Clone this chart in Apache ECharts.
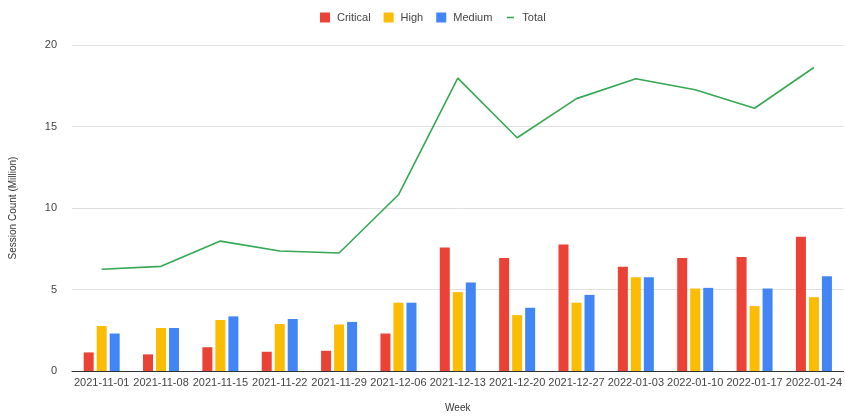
<!DOCTYPE html>
<html lang="en">
<head>
    <meta charset="utf-8"/>
    <title>Session Count by Week</title>
    <script src="https://cdn.jsdelivr.net/npm/echarts@6/dist/echarts.min.js"></script>
    <style>
        html, body { margin: 0; padding: 0; background: #fff; }
        #main { width: 845px; height: 418px; }
    </style>
</head>
<body>
<div id="main"></div>
<script>
    var weeks = ['2021-11-01', '2021-11-08', '2021-11-15', '2021-11-22', '2021-11-29', '2021-12-06',
        '2021-12-13', '2021-12-20', '2021-12-27', '2022-01-03', '2022-01-10', '2022-01-17', '2022-01-24'];
    var critical = [1.14, 1.02, 1.46, 1.18, 1.24, 2.3, 7.58, 6.93, 7.76, 6.4, 6.93, 6.99, 8.23];
    var high = [2.76, 2.64, 3.13, 2.88, 2.85, 4.19, 4.84, 3.43, 4.19, 5.75, 5.06, 3.98, 4.53];
    var medium = [2.3, 2.64, 3.35, 3.19, 3.01, 4.19, 5.43, 3.88, 4.67, 5.75, 5.1, 5.06, 5.81];
    var total = [6.24, 6.42, 7.97, 7.36, 7.24, 10.81, 17.97, 14.31, 16.71, 17.93, 17.26, 16.12, 18.62];

    var font = 'Liberation Sans, Arial, sans-serif';
    // short flat line for the Total legend entry (the M points keep the 10x10 box)
    var lineIcon = 'path://M0,0 M10,10 M1.5,4.2 L8.5,4.2 L8.5,5.8 L1.5,5.8 Z';

    var chart = echarts.init(document.getElementById('main'));
    var option = {
        animation: false,
        textStyle: {fontFamily: font},
        legend: {
            top: 7,
            left: 315,
            itemWidth: 10,
            itemHeight: 10,
            itemGap: 13,
            textStyle: {fontSize: 11, color: '#444', fontFamily: font, padding: [0, 0, 0, 2]},
            data: [
                {name: 'Critical', icon: 'rect'},
                {name: 'High', icon: 'rect'},
                {name: 'Medium', icon: 'rect'},
                {name: 'Total', icon: lineIcon}
            ]
        },
        grid: {left: 72, right: 0, top: 45, bottom: 45},
        xAxis: {
            type: 'category',
            data: weeks,
            name: 'Week',
            nameLocation: 'middle',
            nameGap: 32,
            nameTextStyle: {fontSize: 10, color: '#333'},
            axisTick: {show: false},
            axisLine: {lineStyle: {color: '#333', width: 1}},
            axisLabel: {fontSize: 11, color: '#444', margin: 6, interval: 0}
        },
        yAxis: {
            type: 'value',
            min: 0,
            max: 20,
            interval: 5,
            name: 'Session Count (Million)',
            nameLocation: 'middle',
            nameGap: 54,
            nameTextStyle: {fontSize: 10, color: '#333'},
            axisLabel: {fontSize: 11, color: '#444', margin: 15},
            splitLine: {lineStyle: {color: '#e0e0e0', width: 1}}
        },
        series: [
            {name: 'Critical', type: 'bar', data: critical, barWidth: 10, barGap: '30%',
                itemStyle: {color: '#EA4335'}},
            {name: 'High', type: 'bar', data: high, barWidth: 10, barGap: '30%',
                itemStyle: {color: '#FBBC04'}},
            {name: 'Medium', type: 'bar', data: medium, barWidth: 10, barGap: '30%',
                itemStyle: {color: '#4285F4'}},
            {name: 'Total', type: 'line', data: total, symbol: 'none',
                lineStyle: {color: '#34A853', width: 1.6}, itemStyle: {color: '#34A853'}}
        ]
    };
    chart.setOption(option);
</script>
</body>
</html>
